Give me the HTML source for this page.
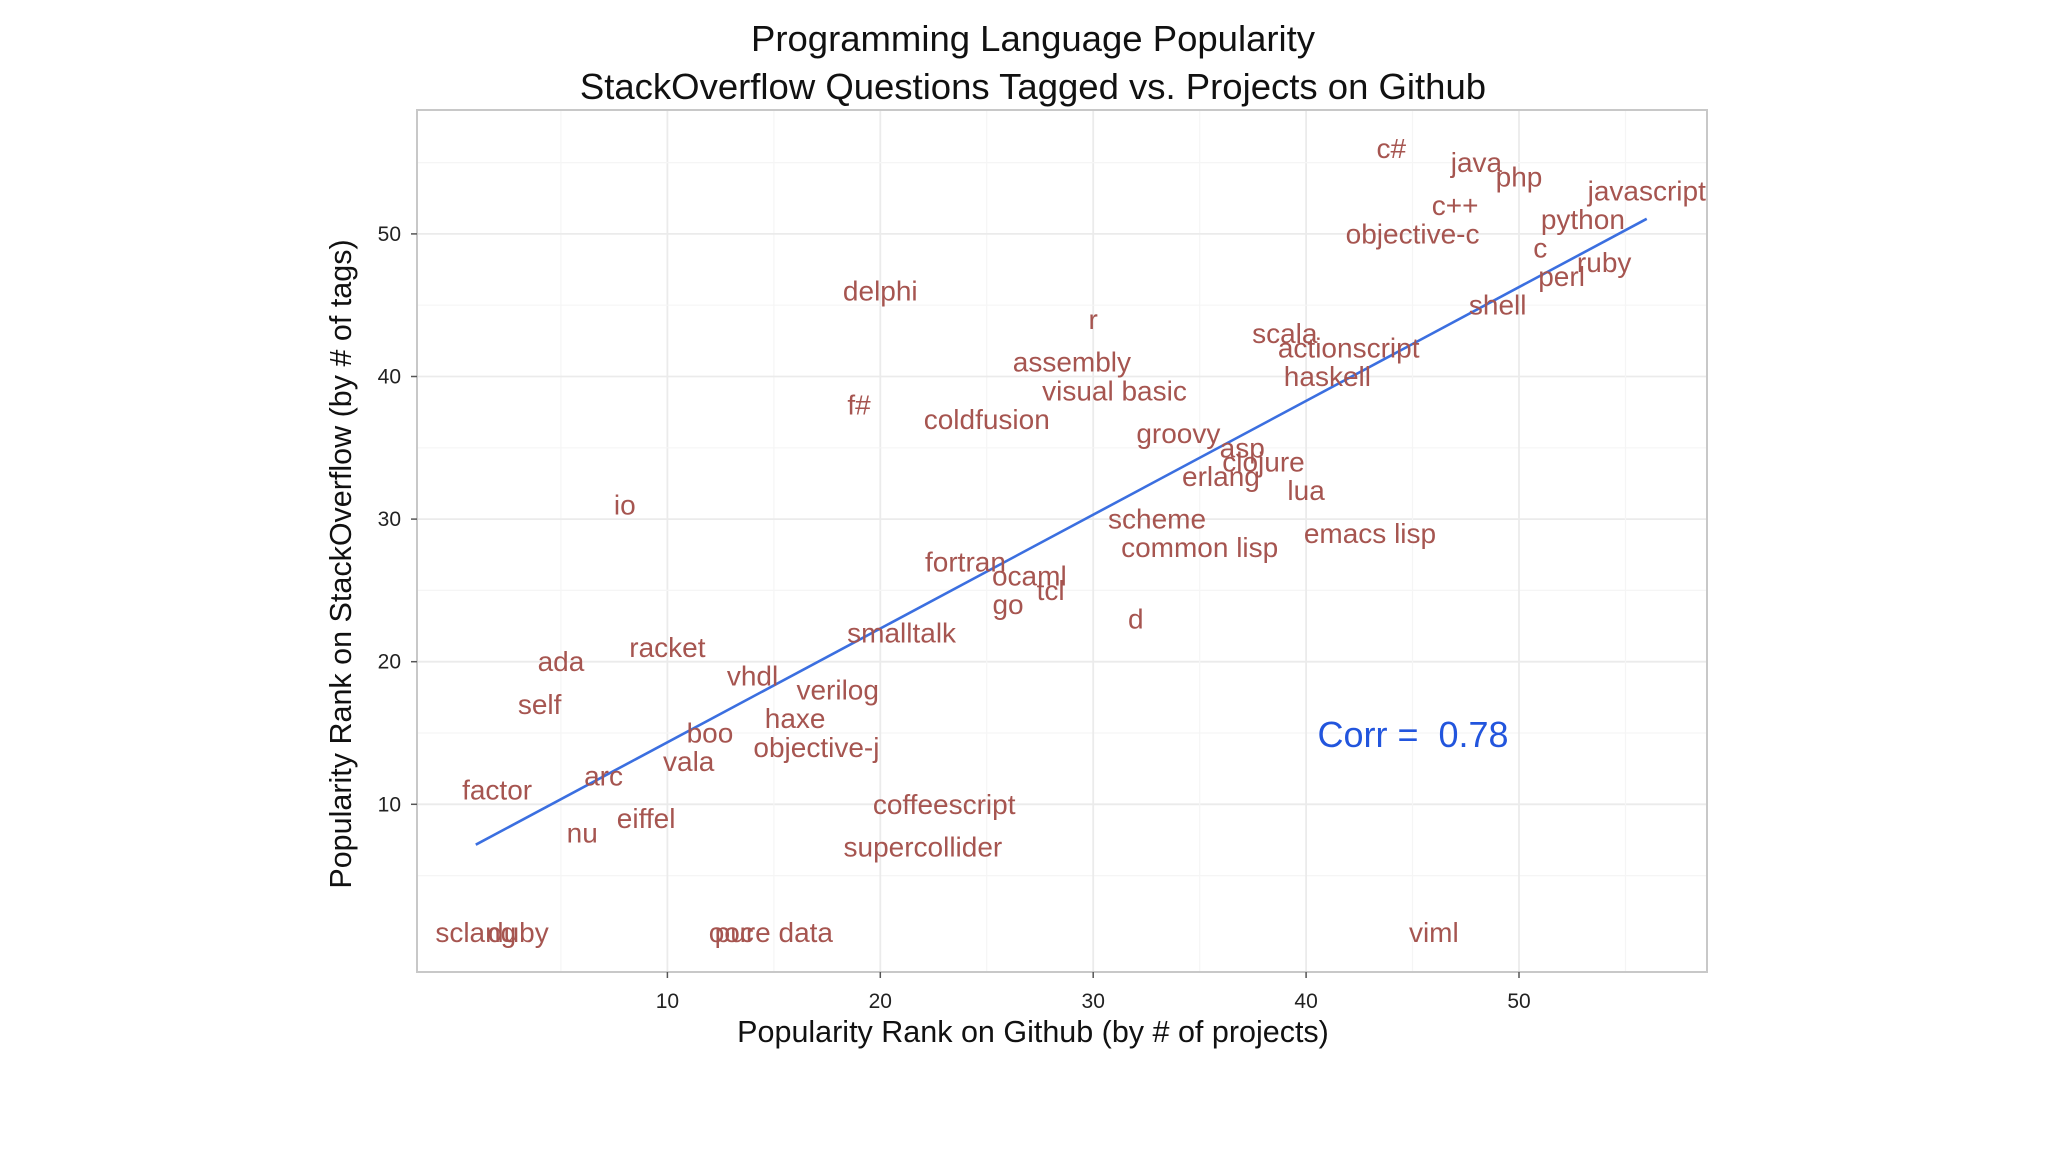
<!DOCTYPE html>
<html><head><meta charset="utf-8"><style>
html,body{margin:0;padding:0;background:#fff;}
svg{display:block;font-family:"Liberation Sans",sans-serif;}
</style></head><body>
<svg id="chart" width="2048" height="1152" viewBox="0 0 2048 1152" xmlns="http://www.w3.org/2000/svg">
<rect width="2048" height="1152" fill="#fff"/>
<text x="1033" y="51" font-size="36.5" text-anchor="middle" fill="#111">Programming Language Popularity</text>
<text x="1033" y="99" font-size="36.5" text-anchor="middle" fill="#111">StackOverflow Questions Tagged vs. Projects on Github</text>
<g id="grid"></g>
<g id="marks"></g>
<text x="1033" y="1042" font-size="30.5" text-anchor="middle" fill="#111">Popularity Rank on Github (by # of projects)</text>
<text transform="translate(351,564) rotate(-90)" font-size="30.5" text-anchor="middle" fill="#111">Popularity Rank on StackOverflow (by # of tags)</text>
</svg>
<script>
const languages=["c#","java","php","javascript","c++","python","objective-c","c","ruby","perl","delphi","shell","r","scala","actionscript","assembly","haskell","visual basic","f#","coldfusion","groovy","asp","clojure","erlang","lua","io","scheme","emacs lisp","common lisp","fortran","ocaml","tcl","go","d","smalltalk","racket","ada","vhdl","verilog","self","haxe","boo","objective-j","vala","arc","factor","coffeescript","eiffel","nu","supercollider","sclang","duby","ooc","pure data","viml"];
const githubRank=[44,48,50,56,47,53,45,51,54,52,20,49,30,39,42,29,41,31,19,25,34,37,38,36,40,8,33,43,35,24,27,28,26,32,21,10,5,14,18,4,16,12,17,11,7,2,23,9,6,22,1,3,13,15,46];
const soRank=[56,55,54,53,52,51,50,49,48,47,46,45,44,43,42,41,40,39,38,37,36,35,34,33,32,31,30,29,28,27,26,25,24,23,22,21,20,19,18,17,16,15,14,13,12,11,10,9,8,7,1,1,1,1,1];
const xTicks=[10,20,30,40,50];
const yTicks=[10,20,30,40,50];
const corrLabel="Corr =  0.78";

const NS="http://www.w3.org/2000/svg";
const PL=417,PR=1707,PT=110,PB=972;
const X=v=>454.5+v*21.29;
const Y=v=>946.9-v*14.26;
function mk(tag,attrs,parent){const e=document.createElementNS(NS,tag);for(const k in attrs)e.setAttribute(k,attrs[k]);parent.appendChild(e);return e;}
const grid=document.getElementById('grid'),marks=document.getElementById('marks');
const bg=mk('rect',{x:PL,y:PT,width:PR-PL,height:PB-PT,fill:'#fff'},grid);


for(let v=5;v<=55;v+=5){
  const major=v%10===0;
  const gx=mk('line',{x1:X(v),x2:X(v),y1:PT,y2:PB,stroke:major?'#ebebeb':'#f5f5f5','stroke-width':major?1.8:1.2},grid);
  
  
  const gy=mk('line',{x1:PL,x2:PR,y1:Y(v),y2:Y(v),stroke:major?'#ebebeb':'#f5f5f5','stroke-width':major?1.8:1.2},grid);
  
  
}
const border=mk('rect',{x:PL,y:PT,width:PR-PL,height:PB-PT,fill:'none',stroke:'#c8c8c8','stroke-width':2},grid);


xTicks.forEach(t=>{
  const l=mk('line',{x1:X(t),x2:X(t),y1:PB,y2:PB+6,stroke:'#555','stroke-width':1.5},grid);
  
  
  const tx=mk('text',{x:X(t),y:PB+36,'font-size':21,'text-anchor':'middle',fill:'#222'},grid);
  tx.textContent=t;
  
  
});
yTicks.forEach(t=>{
  const l=mk('line',{x1:PL-6,x2:PL,y1:Y(t),y2:Y(t),stroke:'#555','stroke-width':1.5},grid);
  
  
  const tx=mk('text',{x:PL-16,y:Y(t)+7,'font-size':21,'text-anchor':'end',fill:'#222'},grid);
  tx.textContent=t;
  
  
});
const n=githubRank.length;
const mx=githubRank.reduce((a,b)=>a+b,0)/n,my=soRank.reduce((a,b)=>a+b,0)/n;
let sxy=0,sxx=0;for(let i=0;i<n;i++){sxy+=(githubRank[i]-mx)*(soRank[i]-my);sxx+=(githubRank[i]-mx)**2;}
const b=sxy/sxx,a=my-b*mx;
const xmin=Math.min(...githubRank),xmax=Math.max(...githubRank);
const reg=mk('line',{x1:X(xmin),y1:Y(a+b*xmin),x2:X(xmax),y2:Y(a+b*xmax),stroke:'#3b6fe0','stroke-width':2.6},marks);


languages.forEach((lang,i)=>{
  const t=mk('text',{x:X(githubRank[i]),y:Y(soRank[i])+9.5,'font-size':28,'text-anchor':'middle',fill:'#a65550'},marks);
  t.textContent=lang;
  
  
});
const c=mk('text',{x:1413,y:747,'font-size':36,'text-anchor':'middle',fill:'#2255dd'},marks);
c.setAttribute('xml:space','preserve');
c.style.whiteSpace='pre';
c.textContent=corrLabel;


</script>
</body></html>
